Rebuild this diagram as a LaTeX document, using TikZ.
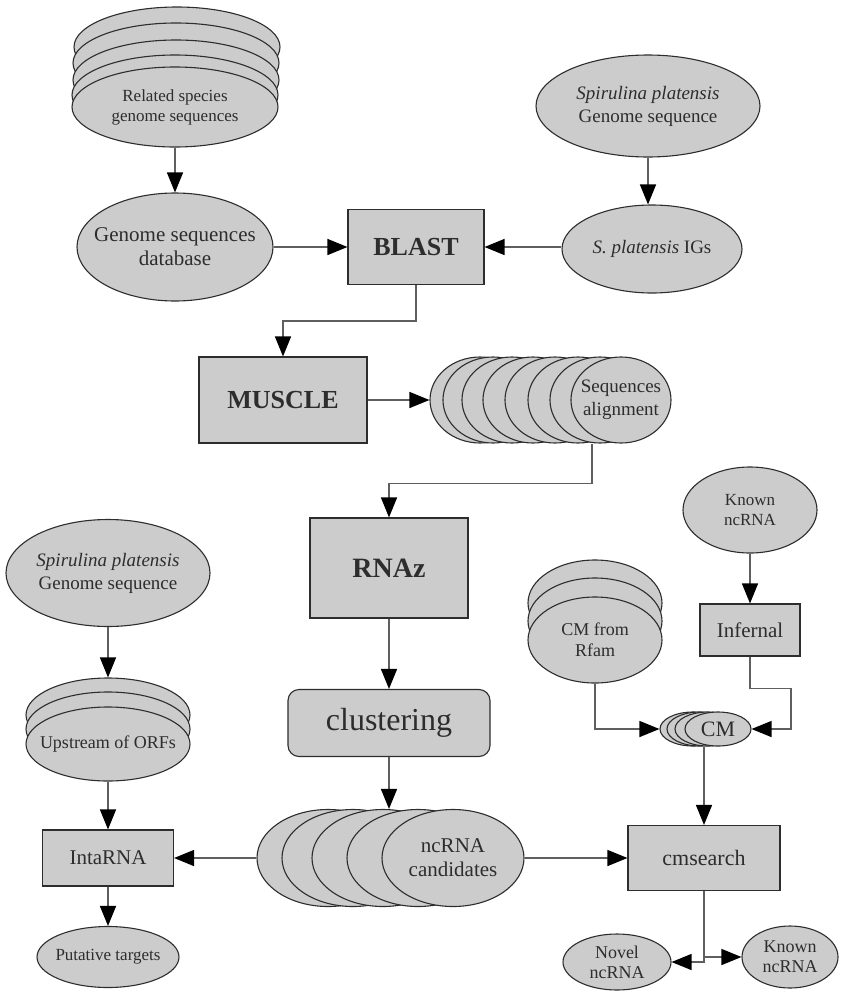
\documentclass[tikz,border=0pt]{standalone}
\usepackage{fontspec}
\setmainfont{Liberation Serif}
\usetikzlibrary{shapes.geometric,arrows.meta}
\definecolor{flowFill}{RGB}{204,204,204}
\definecolor{flowEdge}{RGB}{45,45,45}
\definecolor{flowLine}{RGB}{95,95,95}
\definecolor{flowText}{RGB}{45,45,45}

\begin{document}
\begin{tikzpicture}[
    x=1pt, y=-1pt,
    oval/.style={ellipse, draw=flowEdge, line width=1.1pt, fill=flowFill, text=flowText, align=center, inner sep=-15pt},
    proc/.style={rectangle, draw=flowEdge, line width=1.1pt, fill=flowFill, text=flowText, align=center, inner sep=0pt},
    txtS/.style={font=\fontsize{17}{20}\selectfont},
    txtM/.style={font=\fontsize{19}{23}\selectfont},
    txtL/.style={font=\fontsize{21}{24}\selectfont},
    txtB/.style={font=\fontsize{26}{28}\selectfont\bfseries},
    arr/.style={draw=flowLine, line width=1.4pt, -{Triangle[length=20pt,width=16pt,color=black]}}
]
\useasboundingbox (0,0) rectangle (841,991);

% Related species (stacked, top left)
\node[oval, minimum width=206, minimum height=80] (rel4) at (177,47) {};
\node[oval, minimum width=206, minimum height=80] (rel3) at (176,63) {};
\node[oval, minimum width=206, minimum height=80] (rel2) at (176,80) {};
\node[oval, minimum width=206, minimum height=80] (rel1) at (175,95) {};
\node[oval, minimum width=206, minimum height=80, txtS] (rel) at (175,107) {Related species\\genome sequences};
\node[oval, minimum width=196, minimum height=108, txtL] (db) at (175,247) {Genome sequences\\database};

% Spirulina input (top right)
\node[oval, minimum width=224, minimum height=102, txtM] (spir) at (648,106) {\textit{Spirulina platensis}\\Genome sequence};
\node[oval, minimum width=180, minimum height=88, txtM] (igs) at (652,249) {\textit{S. platensis} IGs};

% BLAST and MUSCLE
\node[proc, minimum width=136, minimum height=75, txtB] (blast) at (416,247) {BLAST};
\node[proc, minimum width=168, minimum height=86, txtB] (muscle) at (283,400) {MUSCLE};

% Sequences alignment (stacked)
\node[oval, minimum width=100, minimum height=86] (seq7) at (480,400) {};
\node[oval, minimum width=100, minimum height=86] (seq6) at (493,400) {};
\node[oval, minimum width=100, minimum height=86] (seq5) at (512,400) {};
\node[oval, minimum width=100, minimum height=86] (seq4) at (533,400) {};
\node[oval, minimum width=100, minimum height=86] (seq3) at (555,400) {};
\node[oval, minimum width=100, minimum height=86] (seq2) at (578,400) {};
\node[oval, minimum width=100, minimum height=86] (seq1) at (600,400) {};
\node[oval, minimum width=100, minimum height=86, txtM] (seqs) at (621,400) {Sequences\\alignment};

% RNAz and clustering (middle)
\node[proc, minimum width=158, minimum height=100, font=\fontsize{28}{30}\selectfont\bfseries] (rnaz) at (389,568) {RNAz};
\node[proc, rounded corners=11pt, minimum width=202, minimum height=67, font=\fontsize{32}{34}\selectfont] (clust) at (389,723) {clustering};

% ncRNA candidates (stacked)
\node[oval, minimum width=142, minimum height=97] (cand4) at (328,858) {};
\node[oval, minimum width=142, minimum height=97] (cand3) at (353,858) {};
\node[oval, minimum width=142, minimum height=97] (cand2) at (383,858) {};
\node[oval, minimum width=142, minimum height=97] (cand1) at (418,858) {};
\node[oval, minimum width=142, minimum height=97, txtL] (cand) at (453,858) {ncRNA\\candidates};

% Target prediction (left column)
\node[oval, minimum width=204, minimum height=107, txtM] (lspir) at (108,573) {\textit{Spirulina platensis}\\Genome sequence};
\node[oval, minimum width=164, minimum height=74] (ups2) at (108,715) {};
\node[oval, minimum width=164, minimum height=74] (ups1) at (108,729) {};
\node[oval, minimum width=164, minimum height=74, font=\fontsize{18}{20}\selectfont] (ups) at (108,744) {Upstream of ORFs};
\node[proc, minimum width=131, minimum height=56, txtL] (inta) at (108,858) {IntaRNA};
\node[oval, minimum width=142, minimum height=61, txtS] (put) at (108,957) {Putative targets};

% Covariance models (right column)
\node[oval, minimum width=134, minimum height=86, txtS] (known) at (750,510) {Known\\ncRNA};
\node[proc, minimum width=100, minimum height=52, txtL] (infernal) at (750,630) {Infernal};
\node[oval, minimum width=134, minimum height=86] (rfam2) at (595,603) {};
\node[oval, minimum width=134, minimum height=86] (rfam1) at (595,621) {};
\node[oval, minimum width=134, minimum height=86, font=\fontsize{18}{21}\selectfont] (rfam) at (595,640) {CM from\\Rfam};
\node[oval, minimum width=66, minimum height=34] (cm3) at (693,729) {};
\node[oval, minimum width=66, minimum height=34] (cm2) at (700,729) {};
\node[oval, minimum width=66, minimum height=34] (cm1) at (708,729) {};
\node[oval, minimum width=66, minimum height=34, font=\fontsize{22}{24}\selectfont] (cm) at (718,729) {CM};
\node[proc, minimum width=152, minimum height=65, font=\fontsize{22}{24}\selectfont] (cmsearch) at (704,858) {cmsearch};
\node[oval, minimum width=108, minimum height=56, font=\fontsize{18}{20}\selectfont] (novel) at (617,962) {Novel\\ncRNA};
\node[oval, minimum width=96, minimum height=62, font=\fontsize{18}{20}\selectfont] (known2) at (790,957) {Known\\ncRNA};

% Alignment pipeline
\draw[arr] (rel.south) -- (db.north);
\draw[arr] (db.east) -- (blast.west);
\draw[arr] (spir.south) -- (spir.south |- igs.north);
\draw[arr] (igs.west |- blast.east) -- (blast.east);
\draw[arr] (blast.south) -- ++(0,36) -| (muscle.north);
\draw[arr] (muscle.east) -- (seq7.west);
\draw[arr] ([xshift=-29pt]seqs.south) -- ++(0,40) -| (rnaz.north);
\draw[arr] (rnaz.south) -- (clust.north);
\draw[arr] (clust.south) -- (clust.south |- cand2.north);

% Targets
\draw[arr] (lspir.south) -- (ups2.north);
\draw[arr] (ups.south) -- (inta.north);
\draw[arr] (cand4.west) -- (inta.east);
\draw[arr] (inta.south) -- (put.north);

% Covariance model search
\draw[arr] (known.south) -- (infernal.north);
\draw[arr] (infernal.south) -- ++(0,32) -- ++(41,0) |- (cm.east);
\draw[arr] (rfam.south) |- (cm3.west);
\draw[arr] (cmsearch.north |- cm.south) -- (cmsearch.north);
\draw[arr] (cand.east) -- (cmsearch.west);
\draw[arr] (cmsearch.south) |- (novel.east);
\draw[arr] (cmsearch.south) |- (known2.west);

\end{tikzpicture}
\end{document}
